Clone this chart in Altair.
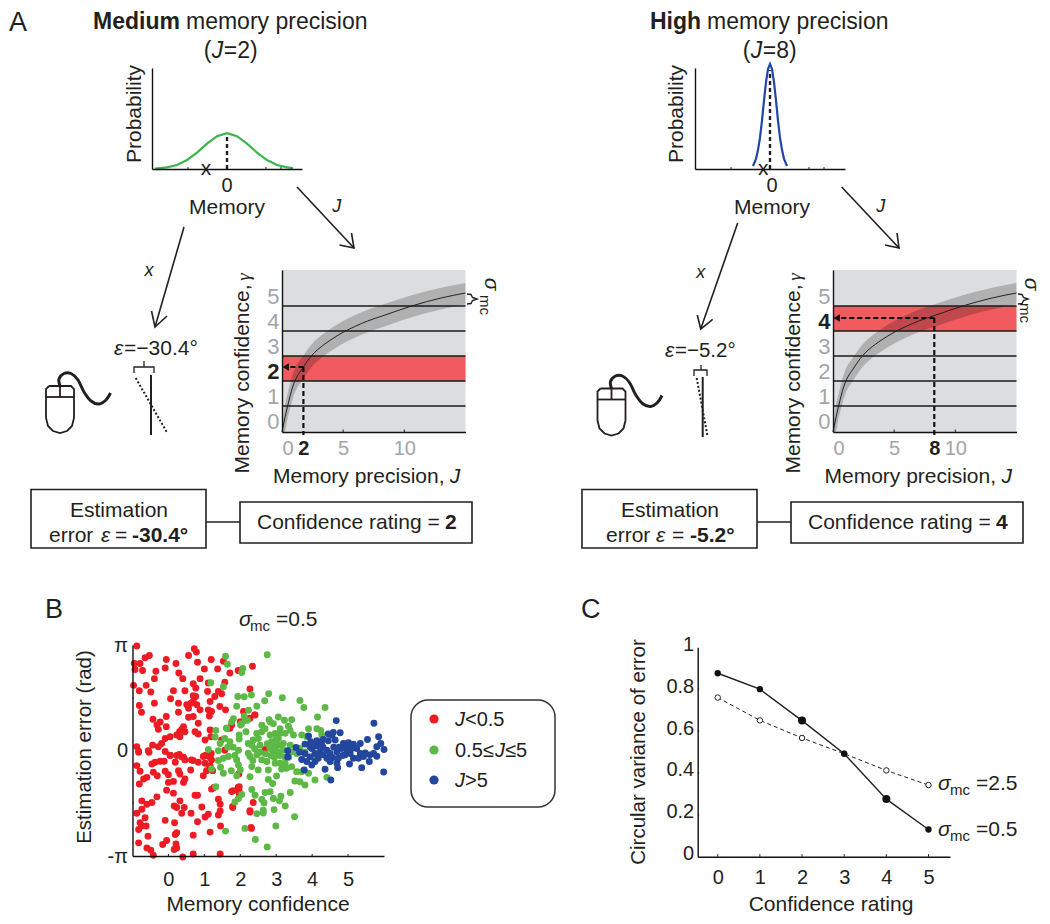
import altair as alt
import pandas as pd

FONT = "Liberation Sans"
INK = "#231f20"
GREY_LABEL = "#a3a5a8"
W, H = 1034, 908
OFF = 8

# ---- Panel A values -------------------------------------------------------
memory_medium = [-72, -60, -50, -40, -30, -20, -10, 0, 10, 20, 30, 40, 50, 60, 66]
prob_medium = [0.004, 0.016, 0.04, 0.088, 0.163, 0.251, 0.325, 0.355, 0.325, 0.251, 0.163, 0.088, 0.04, 0.016, 0.008]
memory_high = [-17, -14, -12, -10, -8, -6, -4, -2, 0, 2, 4, 6, 8, 10, 12, 14, 17]
prob_high = [0.03, 0.10, 0.19, 0.31, 0.48, 0.68, 0.86, 0.99, 1.04, 0.99, 0.86, 0.68, 0.48, 0.31, 0.19, 0.10, 0.03]
J_values = [0, 0.2, 0.46, 0.87, 1.75, 2.4, 3.5, 4, 5, 6, 7, 8.25, 10.6, 13, 15]
gamma_mean = [-0.44, 0.04, 0.6, 1.36, 2.16, 2.6, 3.08, 3.25, 3.55, 3.79, 4.0, 4.21, 4.6, 4.92, 5.12]
gamma_upper = [-0.44, 0.5, 1.1, 1.85, 2.62, 3.05, 3.53, 3.7, 4.0, 4.24, 4.45, 4.66, 5.03, 5.33, 5.52]
gamma_lower = [-0.44, -0.44, 0.1, 0.88, 1.7, 2.15, 2.63, 2.8, 3.1, 3.34, 3.55, 3.76, 4.15, 4.46, 4.66]
level_edges = [0.6, 1.6, 2.6, 3.6, 4.6]

# ---- Panel B values -------------------------------------------------------
red_pts = [(-.88,3.11),(-.65,2.76),(-.53,2.83),(-.95,2.59),(-.79,2.59),(-.93,2.41),(-.72,2.38),(-.35,2.36),(-.39,2.14),
(-.06,2.71),(-.09,2.46),(.21,2.59),(.29,2.31),(.40,2.14),(.56,2.83),(.72,3.03),(.78,2.93),(.81,2.63),(1.19,2.71),(1.0,2.43),
(1.37,2.43),(.88,2.14),(1.53,2.66),(1.71,2.31),(1.57,2.03),(1.94,2.38),(2.34,2.51),(-.97,1.94),(-.62,1.94),(-.81,1.78),(-.49,1.74),
(-.39,1.41),(-.81,1.34),(-.75,1.14),(.14,1.78),(.06,1.54),(.46,1.78),(.69,1.99),(.76,1.86),(.69,1.63),(.76,1.61),(.28,1.41),(.51,1.36),
(.63,1.41),(.69,1.46),(.79,1.36),(.56,1.26),(.88,1.21),(.28,1.14),(1.11,2.01),(1.09,1.76),(1.16,1.46),(1.39,1.76),(1.48,1.69),(1.29,1.61),
(2.27,1.83),(1.11,1.21),(1.2,1.16),(1.14,1.03),(1.43,1.31),(1.59,1.21),(.56,.99),(.69,1.01),(-.43,.93),(-.06,1.01),(-.23,.85),(-.06,.71),
(-.32,.76),(-.28,.63),(.83,.81),(.42,.71),(.37,.63),(.31,.56),(.46,.56),(.23,.46),(.32,.41),(.05,.41),(-.09,.36),(-.19,.21),(.74,.56),(.83,.49),
(1.16,.61),(1.18,.41),(1.02,.31),(1.71,.66),(2.0,.86),(2.27,.96),(2.4,1.06),(-.88,.11),(-.83,-.02),(-.56,-.01),(-.44,.16),(-.28,.11),(.05,-.14),
(.3,-.12),(.37,-.19),(1.07,-.14),(1.19,-.09),(1.48,.31),(1.57,.01),(-.83,-.05),(-.54,-.05),(-.09,-.03),(-.88,-.45),(-.79,-.62),(-.81,-1.0),(-.69,-.85),
(-.6,-.8),(-.46,-.4),(-.37,-.35),(-.42,-.65),(-.31,-.75),(-.23,-.32),(-.12,-.32),(-.09,-.62),(0,-.72),(0,-.95),(.14,-.92),(.05,-.15),(.23,-.15),(.42,-.2),
(.46,-.28),(.19,-.35),(.28,-.6),(.32,-.7),(.46,-.85),(.42,-.95),(.62,-.58),(.69,-.3),(.83,-.35),(.97,-.75),(1.06,-.6),(1.16,-.45),(1.02,-.15),(1.16,-.2),
(1.2,-1.15),(-.05,-1.18),(.14,-1.27),(-.32,-1.38),(-.46,-1.55),(-.74,-1.5),(-.6,-1.6),(.74,-1.33),(.81,-1.33),(1.39,-1.45),(1.44,-1.6),(1.44,-1.8),(1.39,-1.92),
(.16,-1.65),(.32,-1.5),(.23,-1.7),(.44,-1.7),(.37,-1.87),(.93,-1.68),(.63,-1.87),(1.11,-1.9),(1.02,-1.98),(.81,-2.12),(-.88,-1.87),(-.74,-1.75),(-.65,-2.0),
(-.79,-2.15),(-.83,-2.35),(-.74,-2.25),(-.62,-2.25),(-.09,-2.08),(.17,-2.15),(.19,-2.5),(.23,-2.45),(.69,-2.52),(1.16,-2.43),(1.45,-2.25),(-.57,-2.55),(-.05,-2.68),
(-.16,-2.8),(-.83,-2.75),(-.6,-2.9),(-.49,-2.97),(-.42,-3.12),(.21,-2.78),(.23,-2.9),(.16,-2.95),(.4,-3.17),(.69,-3.08),(1.44,-3.08),(1.76,-1.22),(1.94,-1.1),(1.97,-1.3),
(1.79,-1.7),(2.27,-1.83),(2.31,-2.32),(1.96,-.7),(1.23,-.6),(1.27,-1.1),(1.76,.76),(1.62,.66),(2.69,.03),(2.09,1.16),(2.41,1.06),(.97,-.18),(1.11,-.13),(1.02,-.38),(1.2,-.28),
(1.15,-.48),(.64,-.28),(1.8,-1.2),(1.97,-1.08),(1.97,-1.22),(2.36,-1.55),(1.79,-1.67),(2.27,-1.79),(2.3,-2.29)]
green_pts = [(1.59,2.81),(1.64,2.57),(2.75,2.85),(1.18,2.02),(1.53,1.9),(2.07,2.44),(2.04,2.32),(1.93,1.61),(2.11,1.6),(2.31,1.65),(2.79,1.69),(2.68,1.48),(3.17,1.57),
(1.9,1.32),(2.46,1.32),(2.23,1.2),(2.11,1.02),(3.66,1.49),(3.77,1.28),(4.36,1.28),(4.15,1.0),(1.81,.95),(1.76,.85),(2.01,.76),(2.15,.9),(2.2,.9),(2.16,.56),(2.04,.8),
(1.32,.6),(1.62,.66),(1.97,.46),(1.97,.34),(2.8,.92),(3.06,1.0),(3.23,.9),(3.43,.92),(2.92,.8),(2.6,.75),(2.69,.65),(2.83,.85),(3.34,.72),(3.11,.65),(3.39,.6),(3.9,.65),
(4.24,.6),(4.13,.65),(4.27,.46),(2.46,.51),(2.6,.56),(2.36,.31),(2.5,.36),(2.83,.46),(2.97,.51),(3.11,.51),(3.25,.51),(3.48,.46),(3.71,.46),(3.85,.41),(1.44,.21),(1.57,.36),
(1.71,.26),(2.22,.21),(2.32,.16),(1.11,.03),(1.39,-.01),(1.95,.01),(2.22,-.08),(2.55,.16),(2.87,.26),(3.06,.36),(3.2,.21),(3.39,.16),(2.83,.06),(2.97,.11),(3.11,.16),(2.92,-.04),
(3.06,-.04),(3.2,.01),(3.43,-.04),(3.57,-.09),(3.66,.06),(3.8,-.04),(4.04,-.18),(1.67,-.18),(1.53,-.23),(1.39,-.3),(1.9,-.28),(2.27,-.18),(2.46,-.13),(2.6,-.28),(2.74,-.33),
(1.95,-.43),(2.0,-.58),(2.32,-.48),(2.5,-.58),(2.78,-.58),(2.97,-.38),(3.11,-.38),(3.25,-.38),(3.29,-.53),(3.43,-.48),(3.57,-.63),(3.71,-.63),(3.9,-.68),(1.53,-.68),(2.27,-.78),
(3.01,-.76),(2.78,-.86),(2.9,-.98),(3.52,-.91),(3.66,-.93),(3.8,-1.03),(4.08,-.88),(4.41,-.8),(1.32,-1.08),(2.32,-1.16),(2.41,-1.33),(2.04,-1.31),(1.95,-1.43),(1.85,-1.53),
(2.69,-1.25),(2.83,-1.23),(2.92,-1.43),(3.13,-1.36),(3.09,-1.5),(3.39,-1.25),(2.6,-1.46),(2.66,-1.56),(3.25,-1.65),(2.94,-1.76),(2.64,-1.78),(2.46,-1.88),(2.64,-1.86),(3.51,-1.97),
(2.99,-2.25),(2.13,-2.32),(1.59,-2.4),(2.42,-2.65),(2.75,-2.87),(2.9,.25),(3.0,.2),(2.75,.2),(2.95,-.2),(3.1,-.15),(3.25,-.2),(3.0,.35),(2.85,-.15),(2.7,-.1),(3.15,-.55),(3.35,-.2),
(2.55,-.05),(2.4,.05),(2.35,-.3),(1.8,.1),(1.65,.1),(1.3,.4),(1.45,-.5),(1.2,-.55),(1.9,-.75),(1.85,-.15),(1.75,-.6)]
blue_pts = [(4.67,.89),(5.72,.81),(4.45,.49),(4.59,.54),(4.78,.53),(4.55,.46),(3.9,.43),(3.8,.19),(3.55,.09),(3.32,-.01),(3.32,-.19),(3.96,.26),(4.13,.29),(4.31,.33),(4.45,.29),(4.64,.31),
(3.8,-.09),(3.99,.06),(4.13,.13),(4.27,.16),(4.08,-.09),(4.22,-.04),(3.94,-.19),(3.71,-.27),(3.85,-.33),(4.08,-.33),(3.99,-.43),(3.78,-.58),(4.36,-.56),(4.52,-.88),(4.71,-.51),(4.41,.01),
(4.5,-.09),(4.41,-.23),(4.57,-.21),(4.69,-.04),(4.73,-.23),(4.5,-.33),(4.87,.21),(5.01,.23),(5.15,.19),(4.82,.06),(4.96,.03),(5.1,.06),(5.24,.06),(4.92,-.13),(5.06,-.09),(5.04,-.4),(5.15,-.23),
(5.34,.21),(5.54,.33),(5.85,.41),(5.91,.21),(5.8,.11),(6.0,.03),(5.34,-.09),(5.48,-.07),(5.29,-.23),(5.43,-.18),(5.61,-.13),(5.71,-.09),(5.8,-.17),(5.59,-.33),(5.38,-.51),(5.99,-.64),(3.94,.11),
(4.31,-.13),(4.17,-.23),(4.69,-.38),(4.6,.1),(4.3,.1),(4.2,.25),(4.05,.2),(4.85,-.15),(5.0,.15),(4.75,.1),(3.65,-.05)]
PI = 3.14159

# ---- Panel C values -------------------------------------------------------
ratings = [0, 1, 2, 3, 4, 5]
var_low_noise = [0.876, 0.80, 0.65, 0.492, 0.275, 0.13]
var_high_noise = [0.76, 0.651, 0.567, 0.492, 0.412, 0.342]
larger_dots = [2, 4]


def S(dom, a, b):
    return alt.Scale(domain=dom, range=[a - OFF, b - OFF], zero=False, nice=False)


CX = S([8, 1042], 8, 1042)
CY = S([8, 916], 8, 916)
layers = []


def enc(xs, ys, xaxis=None, yaxis=None, x2=False, y2=False, **kw):
    e = dict(
        x=alt.X("x:Q", scale=xs, axis=xaxis, title=None),
        y=alt.Y("y:Q", scale=ys, axis=yaxis, title=None),
    )
    if x2:
        e["x2"] = alt.X2("x2:Q")
    if y2:
        e["y2"] = alt.Y2("y2:Q")
    e.update(kw)
    return e


def poly(pts, color=INK, width=1.3, dash=None, xs=CX, ys=CY, interp="linear"):
    df = pd.DataFrame({"x": [p[0] for p in pts], "y": [p[1] for p in pts], "o": range(len(pts))})
    kw = dict(color=color, strokeWidth=width, interpolate=interp, strokeCap="butt")
    if dash:
        kw["strokeDash"] = dash
    layers.append(alt.Chart(df).mark_line(**kw).encode(**enc(xs, ys, order=alt.Order("o:Q"))))


def rect(x, x2, y, y2, xs=CX, ys=CY, **mk):
    df = pd.DataFrame({"x": [x], "x2": [x2], "y": [y], "y2": [y2]})
    layers.append(alt.Chart(df).mark_rect(**mk).encode(**enc(xs, ys, x2=True, y2=True)))


texts = {}


def T(t, x, y, size=21, weight="normal", style="normal", align="left", angle=0, color=INK, font=FONT):
    texts.setdefault((size, weight, style, align, angle, color, font), []).append({"t": t, "x": x, "y": y})


def ax(orient, off, values=None, size=20, color=INK, pad=4, **kw):
    d = dict(orient=orient, offset=off, grid=False, ticks=False, tickSize=0, title=None, domainColor="#111111",
             domainWidth=1.4, labelFont=FONT, labelFontSize=size, labelColor=color, labelPadding=pad,
             labelAngle=0, labelOverlap=False, zindex=1)
    if values is not None:
        d["values"] = values
    else:
        d["labels"] = False
        d["values"] = []
    d.update(kw)
    return alt.Axis(**d)


def xoff(px):
    return -(H - (px - OFF))


def yoff(px):
    return -(px - OFF)


def ticks_x(values, y0, y1, xs, ys):
    for v in values:
        poly([(v, y0), (v, y1)], xs=xs, ys=ys, width=1)


def ticks_y(values, x0, x1, xs, ys):
    for v in values:
        poly([(x0, v), (x1, v)], xs=xs, ys=ys, width=1)


def prob_panel(x0, mem, prob, color, x_mark, mid, dash_top):
    xs = S([-75, 75], x0, x0 + 150)
    ys = S([0, 1], 169, 68)
    df = pd.DataFrame({"x": mem, "y": prob})
    layers.append(alt.Chart(df).mark_line(color=color, strokeWidth=2.2).encode(
        **enc(xs, ys, xaxis=ax("bottom", xoff(169)), yaxis=ax("left", yoff(x0)))))
    poly([(mid, 0), (mid, dash_top)], xs=xs, ys=ys, width=2.4, dash=[4, 3])
    ticks_x([-39, 39, 54], 0, 0.02, xs, ys)
    ticks_y([0.44, 0.91], -75, -74, xs, ys)
    layers.append(alt.Chart(pd.DataFrame({"x": [x_mark], "y": [-0.02], "t": ["x"]})).mark_text(
        font=FONT, fontSize=21, color=INK, baseline="middle", dy=-2).encode(**enc(xs, ys, text="t:N")))


def heat_panel(x0, band, J_dash, g_dash, bold_y, bold_x, bold_x_label):
    xs = S([0, 15], x0, x0 + 183.5)
    ys = S([-0.44, 6.04], 432, 270)
    rect(0, 15, -0.44, 6.04, xs, ys, color="#dcddde")
    rect(0, 15, band[0], band[1], xs, ys, color="#f15a5f")
    dfb = pd.DataFrame({"x": J_values, "y": gamma_upper, "y2": gamma_lower})
    layers.append(alt.Chart(dfb).mark_area(color="#000000", opacity=0.2, interpolate="monotone").encode(
        **enc(xs, ys, y2=True)))
    for v in level_edges:
        poly([(0, v), (15, v)], xs=xs, ys=ys, width=1.4, color="#1a1a1a")
    dfc = pd.DataFrame({"x": J_values, "y": gamma_mean})
    xvals = sorted([0, 5, 10, bold_x])
    xa = ax("bottom", xoff(432), xvals, color={"condition": {"test": f"datum.value=={bold_x}", "value": INK}, "value": GREY_LABEL},
            pad=6, labelFontWeight={"condition": {"test": f"datum.value=={bold_x}", "value": "bold"}, "value": "normal"},
            labelExpr=f"datum.value=={bold_x}?'{bold_x_label}':''+datum.value")
    ya = ax("left", yoff(x0), [0, 1, 2, 3, 4, 5], size=22, pad=3,
            color={"condition": {"test": f"datum.value=={bold_y}", "value": INK}, "value": GREY_LABEL},
            labelFontWeight={"condition": {"test": f"datum.value=={bold_y}", "value": "bold"}, "value": "normal"})
    layers.append(alt.Chart(dfc).mark_line(color="#222222", strokeWidth=1, interpolate="monotone").encode(
        **enc(xs, ys, xaxis=xa, yaxis=ya)))
    ticks_x([5, 10], -0.44, -0.34, xs, ys)
    poly([(J_dash, g_dash), (J_dash, -0.56)], xs=xs, ys=ys, width=2.2, dash=[5, 3], color="#111111")
    poly([(J_dash, g_dash), (0.35, g_dash)], xs=xs, ys=ys, width=2.2, dash=[5, 3], color="#111111")
    layers.append(alt.Chart(pd.DataFrame({"x": [0.3], "y": [g_dash]})).mark_point(
        shape="triangle-left", filled=True, color="#111111", size=55, opacity=1).encode(**enc(xs, ys)))


def mouse(dx, dy):
    body = [(49, 386), (71, 386), (74, 389), (74, 418), (72, 426), (67, 431), (60, 433), (53, 431), (48, 426), (46, 418), (46, 389), (49, 386)]
    poly([(a + dx, b + dy) for a, b in body], width=1.8)
    poly([(46 + dx, 397 + dy), (74 + dx, 397 + dy)], width=1.8)
    poly([(60 + dx, 386 + dy), (60 + dx, 397 + dy)], width=1.8)
    cord = [(60, 386), (59, 379), (64, 373.5), (71, 373.5), (78, 380), (84, 392), (91, 401), (99, 404), (106, 400), (110.5, 393)]
    poly([(a + dx, b + dy) for a, b in cord], width=3, interp="cardinal")


def arrow(a, b, h1, h2):
    poly([a, b], width=1.6)
    poly([h1, b, h2], width=1.6)


def brace(dx):
    pts = [(467, 294), (471, 294.5), (472.5, 297.5), (477, 299), (472.5, 300.5), (471, 303.5), (467, 304)]
    poly([(a + dx, b) for a, b in pts], width=1.4)


# ---- Panel A left ---------------------------------------------------------
prob_panel(152, memory_medium, prob_medium, "#39b54a", -21, 0, 0.34)
heat_panel(282, (1.6, 2.6), 1.75, 2.16, 2, 1.75, "2")
arrow((184, 227), (155, 327), (151.5, 311), (167, 316))
arrow((297, 187), (354, 248), (351.5, 233), (339.5, 245))
mouse(0, 0)
poly([(134, 373), (134, 367), (154, 367), (154, 373)], width=1.3)
poly([(144, 361), (144, 367)], width=1.3)
poly([(151, 375), (151, 435)], width=2)
poly([(135.7, 378), (166.7, 432)], width=2, dash=[2, 2])
brace(0)
rect(31, 206, 489.5, 548, fillOpacity=0, stroke=INK, strokeWidth=1.6)
rect(240, 472, 502, 543, fillOpacity=0, stroke=INK, strokeWidth=1.6)
poly([(206, 522), (240, 522)], width=1.6)

# ---- Panel A right --------------------------------------------------------
prob_panel(695, memory_high, prob_high, "#2146a8", -6.7, 0, 0.98)
heat_panel(833, (3.6, 4.6), 8.28, 4.12, 4, 8.28, "8")
arrow((737.7, 223), (700.7, 329), (697.3, 315), (712.7, 319.3))
arrow((841.7, 187), (899, 248), (897, 233), (885, 245))
mouse(551.5, 2.5)
poly([(694, 376), (694, 370), (707, 370), (707, 376)], width=1.3)
poly([(701, 365), (701, 370)], width=1.3)
poly([(702.7, 377), (702.7, 437)], width=2)
poly([(696.7, 378), (707.7, 437)], width=2, dash=[2, 2])
brace(551)
rect(582, 757, 489.5, 548, fillOpacity=0, stroke=INK, strokeWidth=1.6)
rect(791, 1023, 502, 543, fillOpacity=0, stroke=INK, strokeWidth=1.6)
poly([(757, 522), (791, 522)], width=1.6)

# ---- Panel B --------------------------------------------------------------
bx = S([-1, 6], 132.5, 384)
by = S([-PI, PI], 856, 645)
bxa = ax("bottom", xoff(856), [0, 1, 2, 3, 4, 5], pad=13)
bya = ax("left", yoff(132.5), [-PI, 0, PI], pad=5, labelExpr="datum.value>1?'π':datum.value<-1?'-π':'0'")
for i, (pts, col) in enumerate([(red_pts, "#ed1c24"), (green_pts, "#5cb946"), (blue_pts, "#23479e")]):
    df = pd.DataFrame({"x": [p[0] for p in pts], "y": [p[1] for p in pts]})
    layers.append(alt.Chart(df).mark_circle(color=col, size=48, opacity=1).encode(
        **enc(bx, by, xaxis=bxa if i == 0 else None, yaxis=bya if i == 0 else None)))
ticks_x([0, 1, 2, 3, 4, 5], -PI, -PI + 0.06, bx, by)
ticks_y([-PI / 2, PI / 2], -1, -0.96, bx, by)
layers.append(alt.Chart(pd.DataFrame({"x": [411], "x2": [555], "y": [700], "y2": [807]})).mark_rect(
    fillOpacity=0, stroke="#333333", strokeWidth=1.5, cornerRadius=17).encode(**enc(CX, CY, x2=True, y2=True)))
layers.append(alt.Chart(pd.DataFrame({"x": [434, 434, 434], "y": [719, 750, 780], "c": ["#ed1c24", "#5cb946", "#23479e"]})).mark_circle(
    size=85, opacity=1).encode(**enc(CX, CY, color=alt.Color("c:N", scale=None))))

# ---- Panel C --------------------------------------------------------------
cx = S([-0.475, 5.51], 697.7, 950)
cy = S([0, 1], 856.7, 647.3)
cxa = ax("bottom", xoff(856.7), ratings, pad=11)
cya = ax("left", yoff(697.7), [0, 0.2, 0.4, 0.6, 0.8, 1], pad=4, labelOffset=-3, labelExpr="''+datum.value")
dfl = pd.DataFrame({"x": ratings, "y": var_low_noise})
dfh = pd.DataFrame({"x": ratings, "y": var_high_noise})
layers.append(alt.Chart(dfh).mark_line(color=INK, strokeWidth=1, strokeDash=[4, 3]).encode(**enc(cx, cy, xaxis=cxa, yaxis=cya)))
layers.append(alt.Chart(dfh).mark_point(shape="circle", filled=True, fill="white", stroke=INK, strokeWidth=1, size=30, opacity=1).encode(**enc(cx, cy)))
layers.append(alt.Chart(dfl).mark_line(color=INK, strokeWidth=1.4).encode(**enc(cx, cy)))
layers.append(alt.Chart(dfl[~dfl.x.isin(larger_dots)]).mark_circle(color="#111111", size=40, opacity=1).encode(**enc(cx, cy)))
layers.append(alt.Chart(dfl[dfl.x.isin(larger_dots)]).mark_circle(color="#111111", size=64, opacity=1).encode(**enc(cx, cy)))
ticks_x(ratings, 0, 0.012, cx, cy)
ticks_y([0.2, 0.4, 0.6, 0.8], -0.475, -0.44, cx, cy)

# ---- Text -----------------------------------------------------------------
T("A", 9, 23, size=27)
T("B", 45, 610, size=27)
T("C", 581, 610, size=27)
for x1, x2, head, mid_j, val in [(93, 186, "Medium", 203.7, "2"), (650, 707, "High", 742.7, "8")]:
    T(head, x1, 22, size=23, weight="bold")
    T("memory precision", x2, 22, size=23)
    T("(", mid_j, 51, size=23)
    T("J", mid_j + 8, 51, size=23, style="italic")
    T("=" + val + ")", mid_j + 20, 51, size=23)
for x_p, x_m, x_j, yj in [(134.7, 227, 336.7, 207), (677.3, 772, 880.7, 207)]:
    T("Probability", x_p, 114, align="center", angle=270)
    T("0", x_m, 186, size=20, align="center")
    T("Memory", x_m, 208, align="center")
    T("J", x_j, yj, size=18, style="italic", align="center")
T("x", 149, 271, size=18, style="italic", align="center")
T("x", 700.7, 273, size=18, style="italic", align="center")
T("ε", 114, 349, style="italic")
T("=−30.4°", 124, 349)
T("ε", 665, 351, style="italic")
T("=−5.2°", 675, 351, size=20.5)
for x_t, x_l, x_j, x_s, y_mc in [(243, 273, 455, 491, 305), (793.5, 824.5, 1006.7, 1031, 313)]:
    T("Memory confidence,", x_t, 379, angle=270, align="center")
    T("γ", x_t + 1, 277, size=19, style="italic", angle=270, align="center", font="Liberation Serif")
    T("Memory precision,", x_l, 477)
    T("J", x_j, 477, style="italic", align="center")
    T("σ", x_s, 284, style="italic", angle=90, align="center")
    T("mc", x_s - 6, y_mc, size=15, angle=90, align="center")
T("Estimation", 119, 511, align="center")
T("Estimation", 670, 511, align="center")
T("error", 49, 536)
T("ε", 101, 536, style="italic")
T("=", 115, 536)
T("-30.4°", 132, 536, weight="bold")
T("error", 606, 536)
T("ε", 656, 536, style="italic")
T("=", 672, 536)
T("-5.2°", 690, 536, weight="bold")
T("Confidence rating =", 257, 523)
T("2", 445, 523, weight="bold")
T("Confidence rating =", 808, 523)
T("4", 996, 523, weight="bold")
T("σ", 239, 620, style="italic")
T("mc", 250, 626, size=15)
T("=0.5", 276, 620)
T("Estimation error (rad)", 85, 747, size=20.5, angle=270, align="center")
T("Memory confidence", 258, 905, align="center")
T("J", 455, 720, size=20, style="italic")
T("<0.5", 465, 720, size=20)
T("0.5≤", 455, 751, size=20)
T("J", 495, 751, size=20, style="italic")
T("≤5", 505, 751, size=20)
T("J", 455, 781, size=20, style="italic")
T(">5", 465, 781, size=20)
T("Circular variance of error", 638.5, 752, size=20.5, angle=270, align="center")
T("Confidence rating", 831, 905, align="center")
for yy, lab in [(784, "=2.5"), (830, "=0.5")]:
    T("σ", 938, yy, style="italic")
    T("mc", 950, yy + 6, size=15)
    T(lab, 976, yy)

for (size, weight, style, align, angle, color, font), rows in texts.items():
    layers.append(alt.Chart(pd.DataFrame(rows)).mark_text(
        fontSize=size, fontWeight=weight, fontStyle=style, align=align, angle=angle, color=color, font=font,
        baseline="middle").encode(**enc(CX, CY, text="t:N")))

chart = alt.layer(*layers).resolve_scale(x="independent", y="independent").properties(
    width=W, height=H, padding=0, autosize=alt.AutoSizeParams(type="none")
).configure(font=FONT, background="white").configure_view(stroke="transparent", strokeWidth=0)

chart.save("out.html", embed_options={"renderer": "svg", "actions": False})
